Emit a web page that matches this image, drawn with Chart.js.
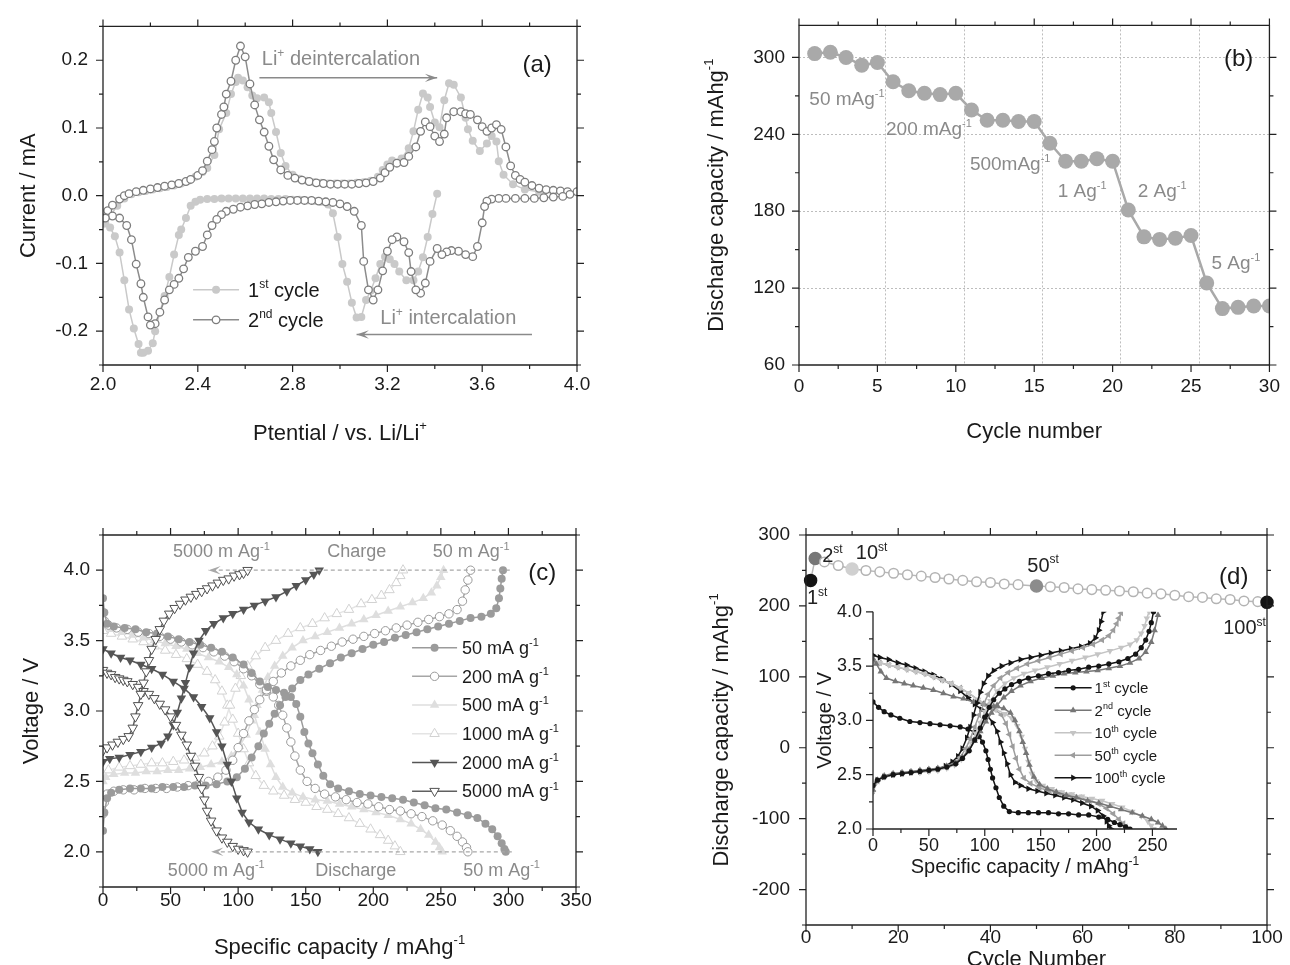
<!DOCTYPE html>
<html lang="en">
<head>
<meta charset="UTF-8">
<title>Electrochemical performance (a)-(d)</title>
<script src="https://cdn.jsdelivr.net/npm/chart.js@4/dist/chart.umd.min.js"></script>
<style>
  body { margin: 0; background: #fff; }
  #wrap { position: relative; width: 1290px; height: 965px; overflow: hidden; background: #fff; }
  canvas { position: absolute; }
</style>
</head>
<body>
<div id="wrap">
  <canvas id="cv" style="left:0;top:0" width="640" height="470"></canvas>
  <canvas id="rate" style="left:640px;top:0" width="650" height="470"></canvas>
  <canvas id="curves" style="left:0;top:470px" width="640" height="495"></canvas>
  <canvas id="cycling" style="left:640px;top:470px" width="650" height="495"></canvas>
  <canvas id="inset" style="left:770px;top:590px" width="430" height="290"></canvas>
</div>
<script>
// ---------- (a) cyclic voltammetry ----------
const cv2AnodicV = [
  2.00,2.02,2.04,2.07,2.09,2.11,2.14,2.17,2.20,2.23,
  2.26,2.29,2.32,2.35,2.37,2.40,2.42,2.44,2.46,2.47,
  2.48,2.50,2.51,2.52,2.54,2.56,2.58,2.60,2.62,2.64,
  2.66,2.68,2.70,2.72,2.75,2.78,2.81,2.84,2.87,2.90,
  2.93,2.96,2.99,3.02,3.05,3.08,3.11,3.14,3.17,3.19,
  3.21,3.24,3.27,3.29,3.32,3.34,3.36,3.38,3.40,3.42,
  3.44,3.45,3.48,3.51,3.53,3.55,3.58,3.60,3.62,3.64,
  3.66,3.68,3.70,3.72,3.74,3.76,3.78,3.81,3.84,3.87,
  3.90,3.93,3.96,4.00];
const cv2AnodicI = [
  -0.033,-0.022,-0.014,-0.005,0.000,0.003,0.006,0.008,0.010,0.012,
  0.014,0.016,0.018,0.021,0.024,0.030,0.037,0.051,0.068,0.080,
  0.100,0.120,0.131,0.150,0.169,0.200,0.221,0.205,0.165,0.134,
  0.112,0.094,0.073,0.053,0.038,0.030,0.026,0.023,0.021,0.019,
  0.018,0.017,0.017,0.017,0.017,0.018,0.019,0.021,0.026,0.034,
  0.042,0.048,0.049,0.058,0.072,0.095,0.109,0.102,0.088,0.080,
  0.091,0.115,0.124,0.124,0.121,0.120,0.112,0.102,0.095,0.100,
  0.105,0.098,0.072,0.044,0.030,0.024,0.020,0.015,0.011,0.009,
  0.008,0.007,0.006,0.006];
const cv2CathodicV = [
  3.97,3.94,3.90,3.86,3.82,3.78,3.74,3.70,3.67,3.64,
  3.62,3.61,3.60,3.58,3.56,3.53,3.50,3.47,3.45,3.43,
  3.41,3.38,3.36,3.34,3.32,3.30,3.29,3.27,3.24,3.22,
  3.20,3.18,3.16,3.14,3.12,3.10,3.09,3.06,3.03,3.00,
  2.97,2.94,2.91,2.88,2.85,2.82,2.79,2.76,2.73,2.70,
  2.67,2.64,2.61,2.58,2.55,2.52,2.50,2.48,2.46,2.44,
  2.42,2.39,2.36,2.34,2.32,2.30,2.28,2.26,2.24,2.22,
  2.20,2.19,2.17,2.16,2.14,2.12,2.10,2.07,2.04,2.01];
const cv2CathodicI = [
  0.002,-0.001,-0.002,-0.003,-0.004,-0.004,-0.004,-0.004,-0.004,-0.005,
  -0.008,-0.016,-0.040,-0.075,-0.090,-0.087,-0.082,-0.081,-0.083,-0.087,
  -0.078,-0.097,-0.129,-0.144,-0.139,-0.112,-0.084,-0.068,-0.061,-0.065,
  -0.082,-0.111,-0.139,-0.154,-0.139,-0.097,-0.044,-0.023,-0.016,-0.012,
  -0.010,-0.009,-0.008,-0.007,-0.007,-0.007,-0.007,-0.008,-0.009,-0.010,
  -0.012,-0.013,-0.015,-0.017,-0.020,-0.023,-0.028,-0.035,-0.044,-0.058,
  -0.075,-0.082,-0.091,-0.108,-0.122,-0.131,-0.139,-0.154,-0.172,-0.189,
  -0.191,-0.179,-0.150,-0.130,-0.101,-0.065,-0.044,-0.033,-0.030,-0.033];
// first cycle starts at open circuit (~3.4 V) and sweeps down first
const cv1CathodicV = [
  3.41,3.39,3.37,3.35,3.33,3.31,3.28,3.25,3.23,3.21,
  3.19,3.17,3.15,3.13,3.11,3.09,3.07,3.05,3.03,3.01,
  2.99,2.97,2.95,2.92,2.89,2.86,2.83,2.80,2.77,2.74,
  2.71,2.68,2.65,2.62,2.59,2.56,2.53,2.50,2.47,2.44,
  2.41,2.39,2.37,2.35,2.33,2.32,2.30,2.28,2.26,2.24,
  2.22,2.21,2.19,2.17,2.16,2.15,2.13,2.11,2.09,2.07,
  2.05,2.03,2.01];
const cv1CathodicI = [
  0.003,-0.027,-0.061,-0.091,-0.112,-0.125,-0.125,-0.112,-0.101,-0.094,
  -0.090,-0.101,-0.122,-0.140,-0.154,-0.179,-0.180,-0.158,-0.127,-0.101,
  -0.061,-0.026,-0.013,-0.009,-0.008,-0.007,-0.006,-0.006,-0.005,-0.005,
  -0.005,-0.004,-0.004,-0.004,-0.004,-0.004,-0.004,-0.004,-0.005,-0.005,
  -0.006,-0.009,-0.015,-0.033,-0.050,-0.058,-0.087,-0.120,-0.148,-0.172,
  -0.200,-0.218,-0.229,-0.232,-0.232,-0.219,-0.196,-0.168,-0.125,-0.084,
  -0.060,-0.047,-0.041];
const cv1AnodicV = [
  2.00,2.03,2.06,2.09,2.12,2.15,2.18,2.21,2.24,2.27,
  2.30,2.33,2.36,2.39,2.42,2.44,2.47,2.49,2.52,2.54,
  2.56,2.57,2.59,2.61,2.63,2.65,2.68,2.70,2.71,2.73,
  2.75,2.77,2.80,2.83,2.86,2.89,2.92,2.95,2.98,3.01,
  3.04,3.07,3.10,3.13,3.16,3.18,3.20,3.22,3.26,3.29,
  3.31,3.33,3.35,3.37,3.38,3.40,3.42,3.44,3.46,3.48,
  3.51,3.53,3.54,3.56,3.59,3.62,3.64,3.66,3.67,3.69,
  3.73,3.78,3.84,3.90,3.95,4.00];
const cv1AnodicI = [
  -0.041,-0.030,-0.015,-0.004,0.002,0.005,0.007,0.009,0.011,0.013,
  0.015,0.018,0.022,0.028,0.035,0.041,0.060,0.098,0.122,0.150,
  0.168,0.174,0.170,0.160,0.148,0.144,0.145,0.138,0.122,0.094,
  0.063,0.044,0.031,0.025,0.022,0.020,0.019,0.018,0.018,0.018,
  0.018,0.019,0.020,0.022,0.028,0.038,0.046,0.052,0.055,0.070,
  0.095,0.127,0.151,0.145,0.131,0.108,0.101,0.141,0.166,0.164,
  0.145,0.115,0.098,0.081,0.066,0.077,0.088,0.080,0.051,0.031,
  0.017,0.009,0.006,0.005,0.005,0.005];

// ---------- (b) rate capability ----------
const rateCycles = [1,2,3,4,5,6,7,8,9,10,11,12,13,14,15,16,17,18,19,20,21,22,23,24,25,26,27,28,29,30];
const rateCapacity = [303,304,300,294,296,281,274,272,271,272,259,251,251,250,250,233,219,219,221,219,181,160,158,159,161,124,104,105,106,106];
const rateBreaks = [5.5, 10.5, 15.5, 20.5, 25.5];
const rateLabels = ['50 mAg^{-1}', '200 mAg^{-1}', '500mAg^{-1}', '1 Ag^{-1}', '2 Ag^{-1}', '5 Ag^{-1}'];

// ---------- (c) charge / discharge curves at different currents ----------
const c50ChargeCap = [0,1,3,6,12,20,28,36,44,52,60,68,76,84,92,99,105,110,115,119,123,127,131,135,140,146,152,160,168,176,184,192,200,208,216,224,232,240,248,256,264,272,280,287,291,293,294,295,296];
const c50ChargeV = [2.15,2.28,2.38,2.42,2.44,2.45,2.45,2.45,2.46,2.46,2.46,2.47,2.47,2.48,2.50,2.53,2.59,2.67,2.75,2.84,2.91,2.98,3.04,3.10,3.16,3.22,3.26,3.30,3.34,3.38,3.41,3.44,3.47,3.49,3.52,3.54,3.56,3.58,3.60,3.62,3.64,3.66,3.67,3.69,3.73,3.80,3.87,3.94,4.00];
const c50DischargeCap = [0,1,3,8,16,24,32,40,48,56,64,72,80,88,96,104,110,116,122,128,134,139,143,146,149,152,155,159,163,168,174,182,190,198,206,214,222,230,238,246,254,262,270,277,283,288,292,295,297,298];
const c50DischargeV = [3.80,3.70,3.62,3.60,3.59,3.58,3.56,3.55,3.53,3.51,3.49,3.47,3.45,3.42,3.38,3.33,3.27,3.21,3.17,3.15,3.13,3.10,3.05,2.96,2.85,2.77,2.70,2.62,2.54,2.48,2.45,2.43,2.41,2.40,2.39,2.38,2.37,2.35,2.33,2.31,2.30,2.28,2.26,2.24,2.20,2.16,2.11,2.06,2.02,2.00];
const c200ChargeCap = [0,1,3,8,15,23,31,39,47,55,63,71,78,85,91,96,100,104,108,112,116,121,126,132,139,146,153,161,169,177,185,193,201,209,217,225,233,241,249,256,262,266,268,270,272];
const c200ChargeV = [2.27,2.35,2.41,2.43,2.44,2.44,2.45,2.45,2.45,2.46,2.47,2.48,2.50,2.53,2.58,2.65,2.74,2.84,2.93,3.01,3.08,3.15,3.21,3.27,3.32,3.36,3.40,3.43,3.46,3.49,3.51,3.53,3.55,3.57,3.59,3.61,3.63,3.65,3.67,3.69,3.72,3.78,3.86,3.93,4.00];
const c200DischargeCap = [0,1,4,10,18,26,34,42,50,58,66,74,82,90,97,104,110,116,121,126,130,133,136,139,142,146,151,157,164,172,180,188,196,204,212,220,228,236,244,251,257,262,266,269,270];
const c200DischargeV = [3.70,3.64,3.61,3.59,3.58,3.56,3.55,3.53,3.51,3.49,3.47,3.45,3.42,3.39,3.35,3.30,3.25,3.19,3.14,3.10,3.04,2.97,2.88,2.78,2.68,2.58,2.50,2.45,2.41,2.39,2.37,2.35,2.34,2.32,2.30,2.29,2.27,2.25,2.22,2.19,2.15,2.11,2.07,2.03,2.00];
const c500ChargeCap = [0,2,8,16,24,32,40,48,56,64,72,80,88,95,101,106,110,114,118,122,127,133,140,148,157,166,175,184,193,202,211,220,229,237,243,247,250,252];
const c500ChargeV = [2.50,2.53,2.55,2.56,2.56,2.57,2.57,2.58,2.58,2.59,2.60,2.62,2.64,2.68,2.75,2.83,2.93,3.04,3.15,3.24,3.32,3.39,3.45,3.50,3.53,3.56,3.59,3.62,3.65,3.68,3.71,3.74,3.77,3.80,3.84,3.89,3.95,4.00];
const c500DischargeCap = [0,6,14,22,30,38,46,54,62,70,78,86,93,99,104,108,112,116,120,124,128,133,140,148,157,166,175,184,193,202,211,220,228,235,241,246,249,251];
const c500DischargeV = [3.62,3.58,3.56,3.54,3.52,3.50,3.48,3.46,3.44,3.41,3.38,3.35,3.31,3.26,3.18,3.08,2.97,2.85,2.73,2.62,2.53,2.46,2.42,2.39,2.37,2.36,2.34,2.32,2.30,2.28,2.26,2.23,2.20,2.16,2.12,2.07,2.03,2.00];
const c1000ChargeCap = [0,4,12,20,28,36,44,52,60,68,75,81,86,90,94,98,102,107,113,120,128,137,146,155,164,173,182,191,199,206,212,217,220,222];
const c1000ChargeV = [2.55,2.58,2.60,2.61,2.62,2.63,2.63,2.64,2.65,2.67,2.70,2.75,2.82,2.92,3.04,3.16,3.25,3.32,3.39,3.45,3.50,3.55,3.59,3.62,3.66,3.69,3.72,3.76,3.79,3.82,3.86,3.91,3.96,4.00];
const c1000DischargeCap = [0,6,14,22,30,38,46,54,62,70,77,83,88,92,96,100,104,108,113,119,126,134,142,150,158,166,174,182,190,198,205,211,216,220];
const c1000DischargeV = [3.57,3.55,3.53,3.51,3.49,3.46,3.43,3.40,3.37,3.33,3.28,3.22,3.14,3.04,2.94,2.84,2.73,2.63,2.54,2.47,2.43,2.40,2.37,2.35,2.32,2.30,2.27,2.24,2.20,2.16,2.12,2.08,2.04,2.00];
const c2000ChargeCap = [0,5,12,20,28,36,43,48,52,55,58,61,64,67,71,76,82,89,96,104,112,120,128,136,143,150,156,160];
const c2000ChargeV = [2.64,2.66,2.67,2.69,2.71,2.74,2.77,2.82,2.90,2.99,3.09,3.20,3.31,3.41,3.50,3.57,3.62,3.66,3.69,3.72,3.75,3.78,3.81,3.85,3.89,3.93,3.97,4.00];
const c2000DischargeCap = [0,6,13,20,28,36,44,52,60,67,73,79,84,88,92,95,99,103,108,115,123,131,139,146,153,159];
const c2000DischargeV = [3.44,3.41,3.38,3.36,3.33,3.30,3.26,3.21,3.16,3.10,3.03,2.95,2.85,2.75,2.62,2.50,2.38,2.28,2.21,2.16,2.12,2.09,2.06,2.04,2.02,2.00];
const c5000ChargeCap = [0,3,7,11,15,19,22,24,26,28,30,32,34,36,39,42,45,49,53,57,61,65,69,73,77,81,85,89,93,97,101,104,107];
const c5000ChargeV = [2.72,2.74,2.76,2.78,2.80,2.82,2.88,2.96,3.04,3.12,3.20,3.28,3.36,3.44,3.51,3.58,3.64,3.69,3.73,3.76,3.79,3.81,3.83,3.85,3.87,3.89,3.91,3.93,3.94,3.96,3.97,3.98,4.00];
const c5000DischargeCap = [0,3,6,9,12,15,18,22,26,30,34,38,42,46,50,54,58,62,65,68,71,73,75,77,80,84,88,92,96,100,104,107];
const c5000DischargeV = [3.29,3.27,3.26,3.24,3.23,3.22,3.21,3.19,3.17,3.14,3.12,3.09,3.05,3.01,2.96,2.90,2.83,2.76,2.68,2.61,2.53,2.45,2.37,2.29,2.22,2.15,2.10,2.07,2.04,2.02,2.01,2.00];
const rateNames = ['50 mA g^{-1}', '200 mA g^{-1}', '500 mA g^{-1}', '1000 mA g^{-1}', '2000 mA g^{-1}', '5000 mA g^{-1}'];

// ---------- (d) cycling at one current, inset: selected cycles ----------
const cycleNumbers = [1,2,4,7,10,13,16,19,22,25,28,31,34,37,40,43,46,50,53,56,59,62,65,68,71,74,77,80,83,86,89,92,95,98,100];
const cycleCapacity = [236,267,262,257,252,250,248,246,244,242,240,238,236,234,233,231,230,228,227,226,224,223,222,221,220,218,217,215,213,212,210,209,207,206,205];
const markedLabels = ['1^{st}', '2^{st}', '10^{st}', '50^{st}', '100^{st}'];

const cyc1ChargeCap = [0,4,10,18,26,34,42,50,58,66,74,80,86,91,96,100,104,108,113,118,124,131,139,148,157,166,175,184,193,202,211,220,228,235,240,244,247,249,251];
const cyc1ChargeV = [2.40,2.45,2.48,2.50,2.51,2.52,2.53,2.54,2.55,2.57,2.60,2.65,2.72,2.82,2.93,3.03,3.12,3.19,3.25,3.29,3.33,3.36,3.39,3.41,3.43,3.44,3.46,3.47,3.49,3.50,3.52,3.54,3.57,3.61,3.67,3.74,3.82,3.90,4.00];
const cyc1DischargeCap = [0,5,10,16,24,33,42,51,60,69,78,85,91,95,98,101,103,105,107,110,113,117,122,130,139,148,157,166,175,184,193,202,210,216,221,226,230];
const cyc1DischargeV = [3.17,3.12,3.08,3.05,3.02,2.99,2.98,2.97,2.96,2.95,2.94,2.92,2.89,2.85,2.80,2.72,2.64,2.55,2.47,2.38,2.29,2.21,2.16,2.15,2.15,2.15,2.15,2.14,2.14,2.13,2.13,2.11,2.09,2.06,2.04,2.02,2.00];
const cyc2ChargeCap = [0,4,10,18,26,34,42,50,58,66,74,80,86,91,96,101,106,111,117,124,132,141,151,161,171,181,191,201,211,221,230,238,244,249,252,255];
const cyc2ChargeV = [2.36,2.45,2.49,2.51,2.52,2.53,2.54,2.55,2.56,2.58,2.61,2.66,2.73,2.81,2.90,2.99,3.07,3.14,3.21,3.27,3.32,3.36,3.39,3.41,3.43,3.44,3.45,3.46,3.48,3.50,3.53,3.57,3.63,3.72,3.83,3.97];
const cyc2DischargeCap = [0,3,7,12,20,28,36,45,54,63,72,81,90,99,108,117,123,127,131,134,137,140,144,149,156,164,173,182,192,202,212,222,232,241,249,255,259,262];
const cyc2DischargeV = [3.57,3.52,3.45,3.39,3.36,3.34,3.32,3.30,3.28,3.25,3.22,3.20,3.17,3.15,3.13,3.11,3.07,3.00,2.90,2.80,2.70,2.59,2.48,2.41,2.37,2.34,2.31,2.29,2.26,2.24,2.21,2.18,2.15,2.12,2.09,2.06,2.03,2.00];
const cyc10ChargeCap = [0,4,10,18,26,34,42,50,58,66,73,79,84,88,92,96,100,105,111,118,126,135,145,156,167,178,190,201,212,222,230,236,240,243,245,247];
const cyc10ChargeV = [2.34,2.44,2.48,2.50,2.51,2.52,2.52,2.53,2.54,2.56,2.59,2.64,2.71,2.79,2.88,2.98,3.08,3.18,3.27,3.34,3.39,3.43,3.46,3.49,3.52,3.55,3.58,3.61,3.64,3.67,3.70,3.74,3.80,3.87,3.94,4.00];
const cyc10DischargeCap = [0,6,14,22,30,38,46,54,62,70,78,86,94,102,110,118,124,129,133,136,139,142,146,152,160,169,178,187,196,205,214,223,232,240,246,249,251];
const cyc10DischargeV = [3.55,3.53,3.51,3.49,3.47,3.45,3.43,3.40,3.37,3.34,3.30,3.25,3.19,3.14,3.10,3.06,3.02,2.95,2.85,2.74,2.62,2.51,2.44,2.40,2.37,2.34,2.32,2.30,2.28,2.26,2.23,2.20,2.16,2.12,2.07,2.03,2.00];
const cyc50ChargeCap = [0,4,10,18,26,34,42,50,58,66,73,78,83,87,91,95,99,103,108,114,121,129,138,148,158,168,178,188,197,205,211,215,218,220,222];
const cyc50ChargeV = [2.35,2.44,2.48,2.50,2.51,2.52,2.53,2.54,2.55,2.57,2.60,2.66,2.74,2.83,2.94,3.05,3.15,3.24,3.32,3.39,3.44,3.48,3.52,3.55,3.58,3.61,3.64,3.67,3.70,3.74,3.78,3.83,3.89,3.94,3.99];
const cyc50DischargeCap = [0,6,14,22,30,38,46,54,62,70,78,86,94,102,109,115,119,122,125,128,131,135,141,149,158,167,176,185,194,202,209,215,220,224,226,227];
const cyc50DischargeV = [3.55,3.53,3.51,3.49,3.47,3.45,3.43,3.40,3.37,3.34,3.30,3.25,3.19,3.14,3.10,3.05,2.97,2.87,2.76,2.65,2.55,2.47,2.42,2.38,2.35,2.33,2.31,2.29,2.26,2.23,2.19,2.14,2.09,2.05,2.02,2.00];
const cyc100ChargeCap = [0,4,10,18,26,34,42,50,58,65,71,76,80,84,87,90,93,96,99,103,108,115,123,132,141,150,159,168,177,186,194,199,202,204,206];
const cyc100ChargeV = [2.40,2.45,2.48,2.50,2.51,2.52,2.53,2.54,2.55,2.58,2.62,2.67,2.74,2.84,2.94,3.05,3.16,3.26,3.34,3.41,3.46,3.50,3.53,3.56,3.58,3.60,3.62,3.64,3.66,3.68,3.71,3.76,3.83,3.91,4.00];
const cyc100DischargeCap = [0,6,14,22,30,38,46,54,62,70,78,85,91,97,102,107,111,114,117,120,123,127,132,139,147,155,163,171,179,187,195,201,206,209,211,213];
const cyc100DischargeV = [3.60,3.58,3.56,3.53,3.51,3.48,3.45,3.42,3.38,3.33,3.27,3.21,3.15,3.10,3.05,2.98,2.90,2.80,2.70,2.60,2.50,2.43,2.40,2.37,2.35,2.33,2.31,2.29,2.27,2.24,2.21,2.17,2.12,2.07,2.03,2.00];
const cycleNames = ['1^{st} cycle', '2^{nd} cycle', '10^{th} cycle', '50^{th} cycle', '100^{th} cycle'];

// ---------- shared helpers ----------
const FONT = '"Liberation Sans", Arial, Helvetica, sans-serif';
const NOTE = '#8a8a8a';
const INK = '#1a1a1a';
Chart.defaults.font.family = FONT;
Chart.defaults.font.size = 19;
Chart.defaults.color = INK;

function xy(xs, ys) { return xs.map((x, i) => ({ x: x, y: ys[i] })); }

function series(xs, ys, s) {
  return {
    data: xy(xs, ys), showLine: true, tension: 0, fill: false,
    borderColor: s.line, borderWidth: s.lw || 1.5,
    pointStyle: s.shape || 'circle', pointRotation: s.rot || 0, pointRadius: s.r,
    pointBackgroundColor: s.fill, pointBorderColor: s.edge || s.fill,
    pointBorderWidth: s.bw === undefined ? 1 : s.bw
  };
}

// labelled ticks only on whole multiples of the step (Chart.js would otherwise start at min)
function axis(min, max, step, digits, pad, size) {
  return {
    type: 'linear', min: min, max: max,
    afterBuildTicks: s => {
      const t = [];
      for (let k = Math.ceil(min / step - 1e-9); k <= Math.floor(max / step + 1e-9); k++) t.push({ value: k * step });
      s.ticks = t;
    },
    ticks: {
      autoSkip: false, maxRotation: 0, padding: pad,
      font: { size: size || 19 },
      callback: v => (Math.abs(v) < 1e-9 ? 0 : v).toFixed(digits)
    },
    grid: { display: false, drawTicks: false },
    border: { display: false }
  };
}

// text with ^{...} superscripts, vertically centred on y
function rich(ctx, str, x, y, size, color, align) {
  const parts = str.split(/\^\{([^}]*)\}/);
  const fonts = parts.map((p, i) => (i % 2 ? Math.round(size * 0.6) : size) + 'px ' + FONT);
  const widths = parts.map((p, i) => { ctx.font = fonts[i]; return ctx.measureText(p).width; });
  const w = widths.reduce((a, b) => a + b, 0);
  let cx = align === 'center' ? x - w / 2 : align === 'right' ? x - w : x;
  const base = y + size * 0.35;
  ctx.fillStyle = color;
  ctx.textAlign = 'left';
  ctx.textBaseline = 'alphabetic';
  parts.forEach((p, i) => {
    ctx.font = fonts[i];
    ctx.fillText(p, cx, i % 2 ? base - size * 0.42 : base);
    cx += widths[i];
  });
}

function marker(ctx, shape, r, rot, x, y) {
  ctx.beginPath();
  if (shape === 'triangle') {
    const a0 = rot * Math.PI / 180;
    for (let k = 0; k < 3; k++) {
      const a = a0 + k * 2 * Math.PI / 3;
      const px = x + Math.sin(a) * r, py = y - Math.cos(a) * r;
      if (k) ctx.lineTo(px, py); else ctx.moveTo(px, py);
    }
    ctx.closePath();
  } else {
    ctx.arc(x, y, r, 0, Math.PI * 2);
  }
  ctx.fill();
  ctx.stroke();
}

function tickMarks(min, max, major, minor) {
  const out = [];
  for (let k = Math.ceil(min / minor - 1e-9); k <= Math.floor(max / minor + 1e-9); k++) {
    const v = k * minor;
    out.push([v, Math.abs(v / major - Math.round(v / major)) < 1e-6]);
  }
  return out;
}

// frame, tick marks, titles, notes, arrows and a hand-placed legend
function decor(cfg) {
  return {
    id: 'decor',
    beforeDatasetsDraw(chart) {
      const { ctx, chartArea: a, scales: { x, y } } = chart;
      ctx.save();
      ctx.lineWidth = 1;
      ctx.setLineDash([2, 2]);
      ctx.strokeStyle = '#bdbdbd';
      (cfg.hGrid || []).forEach(v => {
        const py = Math.round(y.getPixelForValue(v)) + 0.5;
        ctx.beginPath(); ctx.moveTo(a.left, py); ctx.lineTo(a.right, py); ctx.stroke();
      });
      (cfg.vGrid || []).forEach(v => {
        const px = Math.round(x.getPixelForValue(v)) + 0.5;
        ctx.beginPath(); ctx.moveTo(px, a.top); ctx.lineTo(px, a.bottom); ctx.stroke();
      });
      ctx.restore();
    },
    afterDatasetsDraw(chart) {
      const { ctx, chartArea: a, scales: { x, y } } = chart;
      ctx.save();
      ctx.strokeStyle = '#222';
      ctx.lineWidth = 1.3;
      ctx.beginPath();
      if (cfg.box) {
        ctx.rect(a.left, a.top, a.right - a.left, a.bottom - a.top);
      } else {
        ctx.moveTo(a.left, a.top); ctx.lineTo(a.left, a.bottom); ctx.lineTo(a.right, a.bottom);
      }
      ctx.stroke();

      // tick marks, pointing outwards
      const sides = cfg.box ? 'lbtr' : 'lb';
      ctx.lineWidth = 1.2;
      ctx.beginPath();
      tickMarks(x.min, x.max, cfg.xt[0], cfg.xt[1]).forEach(([v, big]) => {
        const px = x.getPixelForValue(v), L = big ? 7 : 4;
        if (sides.includes('b')) { ctx.moveTo(px, a.bottom); ctx.lineTo(px, a.bottom + L); }
        if (sides.includes('t')) { ctx.moveTo(px, a.top); ctx.lineTo(px, a.top - L); }
      });
      tickMarks(y.min, y.max, cfg.yt[0], cfg.yt[1]).forEach(([v, big]) => {
        const py = y.getPixelForValue(v), L = big ? 7 : 4;
        if (sides.includes('l')) { ctx.moveTo(a.left, py); ctx.lineTo(a.left - L, py); }
        if (sides.includes('r')) { ctx.moveTo(a.right, py); ctx.lineTo(a.right + L, py); }
      });
      ctx.stroke();

      // axis titles
      const ts = cfg.titleSize || 22;
      rich(ctx, cfg.xTitle[0], (a.left + a.right) / 2, a.bottom + cfg.xTitle[1], ts, INK, 'center');
      ctx.save();
      ctx.translate(a.left + cfg.yTitle[1], (a.top + a.bottom) / 2);
      ctx.rotate(-Math.PI / 2);
      rich(ctx, cfg.yTitle[0], 0, 0, ts, INK, 'center');
      ctx.restore();

      // arrows (optionally dashed)
      (cfg.arrows || []).forEach(r => {
        const x1 = x.getPixelForValue(r.x1), y1 = y.getPixelForValue(r.y1);
        const x2 = x.getPixelForValue(r.x2), y2 = y.getPixelForValue(r.y2);
        ctx.strokeStyle = r.c; ctx.fillStyle = r.c; ctx.lineWidth = r.lw || 1.5;
        ctx.setLineDash(r.dash || []);
        ctx.beginPath(); ctx.moveTo(x1, y1); ctx.lineTo(x2, y2); ctx.stroke();
        ctx.setLineDash([]);
        const ang = Math.atan2(y2 - y1, x2 - x1), h = r.head || 13;
        ctx.beginPath();
        ctx.moveTo(x2, y2);
        ctx.lineTo(x2 - h * Math.cos(ang - 0.33), y2 - h * Math.sin(ang - 0.33));
        ctx.lineTo(x2 - h * 0.55 * Math.cos(ang), y2 - h * 0.55 * Math.sin(ang));
        ctx.lineTo(x2 - h * Math.cos(ang + 0.33), y2 - h * Math.sin(ang + 0.33));
        ctx.closePath();
        ctx.fill();
      });

      // notes in data coordinates
      (cfg.notes || []).forEach(n => {
        rich(ctx, n.t, x.getPixelForValue(n.x), y.getPixelForValue(n.y), n.s || 19, n.c || NOTE, n.align || 'left');
      });

      // legend
      const lg = cfg.legend;
      if (lg) {
        const x0 = x.getPixelForValue(lg.x);
        let yy = y.getPixelForValue(lg.y);
        lg.items.forEach(([idx, label]) => {
          const ds = chart.data.datasets[idx];
          ctx.strokeStyle = ds.borderColor; ctx.lineWidth = ds.borderWidth;
          ctx.beginPath(); ctx.moveTo(x0, yy); ctx.lineTo(x0 + lg.len, yy); ctx.stroke();
          ctx.fillStyle = ds.pointBackgroundColor; ctx.strokeStyle = ds.pointBorderColor;
          ctx.lineWidth = ds.pointBorderWidth || 0.01;
          marker(ctx, ds.pointStyle, ds.pointRadius, ds.pointRotation, x0 + lg.len / 2, yy);
          rich(ctx, label, x0 + lg.len + lg.gap, yy, lg.s, INK, 'left');
          yy += lg.dy;
        });
      }
      ctx.restore();
    }
  };
}

function plot(id, area, xs, ys, datasets, cfg) {
  const cv = document.getElementById(id);
  const W = cv.width, H = cv.height;
  xs.afterFit = s => { s.height = H - area[3]; };
  ys.afterFit = s => { s.width = area[0]; };
  return new Chart(cv, {
    type: 'scatter',
    data: { datasets: datasets },
    options: {
      responsive: false, animation: false, events: [],
      layout: { padding: { top: area[1], right: W - area[2], bottom: 0, left: 0 } },
      scales: { x: xs, y: ys },
      plugins: { legend: { display: false }, tooltip: { enabled: false } }
    },
    plugins: [decor(cfg)]
  });
}

// ---------- (a) ----------
plot('cv', [103, 13, 577, 365],
  axis(2.0, 4.0, 0.4, 1, 8), axis(-0.25, 0.25, 0.1, 1, 15),
  [
    series(cv2AnodicV.concat(cv2CathodicV), cv2AnodicI.concat(cv2CathodicI),
      { line: '#8c8c8c', fill: '#ffffff', edge: '#7d7d7d', r: 3.8, bw: 1.3 }),
    series(cv1CathodicV.concat(cv1AnodicV), cv1CathodicI.concat(cv1AnodicI),
      { line: '#c9c9c9', fill: '#c9c9c9', r: 4, bw: 0 })
  ],
  {
    box: true, xt: [0.4, 0.2], yt: [0.1, 0.05],
    xTitle: ['Ptential / vs. Li/Li^{+}', 67], yTitle: ['Current / mA', -76],
    notes: [
      { t: 'Li^{+} deintercalation', x: 2.67, y: 0.203, s: 20 },
      { t: 'Li^{+} intercalation', x: 3.17, y: -0.179, s: 20 },
      { t: '(a)', x: 3.77, y: 0.195, s: 24, c: INK }
    ],
    arrows: [
      { x1: 2.66, y1: 0.174, x2: 3.41, y2: 0.174, c: '#8a8a8a' },
      { x1: 3.81, y1: -0.205, x2: 3.07, y2: -0.205, c: '#8a8a8a' }
    ],
    legend: { x: 2.38, y: -0.139, dy: 30, len: 46, gap: 9, s: 20,
      items: [[1, '1^{st} cycle'], [0, '2^{nd} cycle']] }
  });

// ---------- (b) ----------
const rateNoteX = [0.66, 5.55, 10.9, 16.5, 21.6, 26.3];
const rateNoteY = [268, 244.5, 217.5, 196, 196, 140];
plot('rate', [159, 12, 633, 365],
  axis(0, 30, 5, 0, 10), axis(60, 325, 60, 0, 14),
  [series(rateCycles, rateCapacity, { line: '#a9a9a9', lw: 2.5, fill: '#a9a9a9', r: 7.5, bw: 0 })],
  {
    box: true, xt: [5, 2.5], yt: [60, 30], hGrid: [120, 180, 240, 300], vGrid: rateBreaks,
    xTitle: ['Cycle number', 65], yTitle: ['Discharge capacity / mAhg^{-1}', -84],
    notes: rateLabels.map((t, i) => ({ t: t, x: rateNoteX[i], y: rateNoteY[i], s: 19 }))
      .concat([{ t: '(b)', x: 27.1, y: 300, s: 24, c: INK }])
  });

// ---------- (c) ----------
const styles = {
  r5000: { line: '#606060', fill: '#ffffff', edge: '#505050', shape: 'triangle', rot: 180, r: 5.5 },
  r2000: { line: '#555555', fill: '#555555', shape: 'triangle', rot: 180, r: 5.5, bw: 0 },
  r50: { line: '#9b9b9b', fill: '#9b9b9b', r: 4, bw: 0 },
  r200: { line: '#a6a6a6', fill: '#ffffff', edge: '#9a9a9a', r: 4.2 },
  r500: { line: '#dedede', fill: '#dedede', shape: 'triangle', r: 5.5, bw: 0 },
  r1000: { line: '#e4e4e4', fill: '#ffffff', edge: '#d2d2d2', shape: 'triangle', r: 5.5 }
};
plot('curves', [103, 65, 576, 417],
  axis(0, 350, 50, 0, 2), axis(1.75, 4.25, 0.5, 1, 13),
  [
    series(c5000ChargeCap, c5000ChargeV, styles.r5000),
    series(c5000DischargeCap, c5000DischargeV, styles.r5000),
    series(c2000ChargeCap, c2000ChargeV, styles.r2000),
    series(c2000DischargeCap, c2000DischargeV, styles.r2000),
    series(c50ChargeCap, c50ChargeV, styles.r50),
    series(c50DischargeCap, c50DischargeV, styles.r50),
    series(c200ChargeCap, c200ChargeV, styles.r200),
    series(c200DischargeCap, c200DischargeV, styles.r200),
    series(c500ChargeCap, c500ChargeV, styles.r500),
    series(c500DischargeCap, c500DischargeV, styles.r500),
    series(c1000ChargeCap, c1000ChargeV, styles.r1000),
    series(c1000DischargeCap, c1000DischargeV, styles.r1000)
  ],
  {
    box: true, xt: [50, 25], yt: [0.5, 0.25],
    xTitle: ['Specific capacity / mAhg^{-1}', 59], yTitle: ['Voltage / V', -73],
    notes: [
      { t: '5000 m Ag^{-1}', x: 51.8, y: 4.135, s: 18 },
      { t: 'Charge', x: 166, y: 4.135, s: 18 },
      { t: '50 m Ag^{-1}', x: 244, y: 4.135, s: 18 },
      { t: '5000 m Ag^{-1}', x: 48, y: 1.873, s: 18 },
      { t: 'Discharge', x: 157, y: 1.873, s: 18 },
      { t: '50 m Ag^{-1}', x: 266.5, y: 1.873, s: 18 },
      { t: '(c)', x: 314.6, y: 3.99, s: 24, c: INK }
    ],
    arrows: [
      { x1: 301, y1: 4.0, x2: 78, y2: 4.0, c: '#a8a8a8', lw: 1.2, dash: [4, 3] },
      { x1: 302.5, y1: 2.0, x2: 80, y2: 2.0, c: '#a8a8a8', lw: 1.2, dash: [4, 3] }
    ],
    legend: { x: 228.7, y: 3.45, dy: 28.7, len: 45, gap: 5, s: 18,
      items: [[4, rateNames[0]], [6, rateNames[1]], [8, rateNames[2]], [10, rateNames[3]], [2, rateNames[4]], [0, rateNames[5]]] }
  });

// ---------- (d) ----------
const markColors = { 1: '#151515', 2: '#777777', 10: '#d0d0d0', 50: '#8c8c8c', 100: '#151515' };
const cycleFill = cycleNumbers.map(c => markColors[c] || '#ffffff');
const cycleEdge = cycleNumbers.map(c => markColors[c] || '#b3b3b3');
const cycleRadius = cycleNumbers.map(c => (markColors[c] ? 6 : 4.8));
const markNoteX = [0.2, 3.5, 10.8, 48, 90.5];
const markNoteY = [212, 272, 276, 258, 170];
plot('cycling', [166, 65, 627, 455],
  axis(0, 100, 20, 0, 1), axis(-250, 300, 100, 0, 16),
  [{
    data: xy(cycleNumbers, cycleCapacity), showLine: true, tension: 0, clip: false,
    borderColor: '#b8b8b8', borderWidth: 1.5,
    pointRadius: cycleRadius, pointBackgroundColor: cycleFill, pointBorderColor: cycleEdge, pointBorderWidth: 1.5
  }],
  {
    box: true, xt: [20, 10], yt: [100, 50],
    xTitle: ['Cycle Number', 33], yTitle: ['Discharge capacity / mAhg^{-1}', -86],
    notes: markedLabels.map((t, i) => ({ t: t, x: markNoteX[i], y: markNoteY[i], s: 20, c: '#222' }))
      .concat([{ t: '(d)', x: 89.6, y: 243, s: 24, c: INK }])
  });

// inset of (d)
const cyc = {
  c1: { line: '#151515', fill: '#151515', r: 2.6, bw: 0 },
  c2: { line: '#767676', fill: '#767676', shape: 'triangle', r: 3.8, bw: 0 },
  c10: { line: '#c4c4c4', fill: '#c4c4c4', shape: 'triangle', rot: 180, r: 3.8, bw: 0 },
  c50: { line: '#9d9d9d', fill: '#9d9d9d', shape: 'triangle', rot: 270, r: 3.8, bw: 0 },
  c100: { line: '#151515', fill: '#151515', shape: 'triangle', rot: 90, r: 3.8, bw: 0 }
};
plot('inset', [103, 15, 407, 239],
  axis(0, 272, 50, 0, 6, 18), axis(2.0, 4.0, 0.5, 1, 11, 18),
  [
    series(cyc1ChargeCap, cyc1ChargeV, cyc.c1),
    series(cyc2ChargeCap, cyc2ChargeV, cyc.c2),
    series(cyc10ChargeCap, cyc10ChargeV, cyc.c10),
    series(cyc50ChargeCap, cyc50ChargeV, cyc.c50),
    series(cyc100ChargeCap, cyc100ChargeV, cyc.c100),
    series(cyc1DischargeCap, cyc1DischargeV, cyc.c1),
    series(cyc2DischargeCap, cyc2DischargeV, cyc.c2),
    series(cyc10DischargeCap, cyc10DischargeV, cyc.c10),
    series(cyc50DischargeCap, cyc50DischargeV, cyc.c50),
    series(cyc100DischargeCap, cyc100DischargeV, cyc.c100)
  ],
  {
    box: false, xt: [50, 25], yt: [0.5, 0.25], titleSize: 20,
    xTitle: ['Specific capacity / mAhg^{-1}', 37], yTitle: ['Voltage / V', -49],
    legend: { x: 162.5, y: 3.30, dy: 22.5, len: 37, gap: 3, s: 15,
      items: cycleNames.map((n, i) => [i, n]) }
  });
</script>
</body>
</html>
